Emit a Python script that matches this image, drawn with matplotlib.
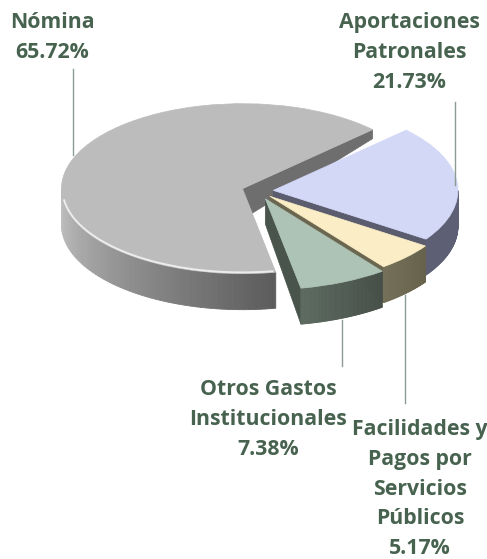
# coding: utf-8

import matplotlib
import numpy as np

matplotlib.use('Agg')
import matplotlib.pyplot as plt
from matplotlib.colors import to_rgb

WIDTH, HEIGHT = 487, 559
RX, RY = 181.0, 85.0
CENTER = (258.0, 191.0)
DEPTH = 36.0 / RY

categories = ["Nómina", "Otros Gastos\nInstitucionales", "Facilidades y\nPagos por\nServicios\nPúblicos", "Aportaciones\nPatronales"]
shares = [65.72, 7.38, 5.17, 21.73]
explode = [0.09, 0.10, 0.09, 0.085]
# front slices look a bit larger in the perspective of the original
radius_scale = [1.0, 1.07, 1.04, 1.02]
top_colors = ["#bcbcbc", "#adc3b6", "#fbeec6", "#d3d8f7"]
cut_colors = ["#6e6e6e", "#48544c", "#6b664f", "#5b5d6f"]
side_left = ["#c4c4c4", "#5c6a60", "#75705a", "#5d6074"]
side_right = ["#5c5c5c", "#464f48", "#67624c", "#5d6074"]
# bottom of the cut face, at the tip and at the rim (fraction of the depth)
cut_depth = [(0.85, 0.25), (0.7, 1.0), (0.6, 1.0), (0.7, 1.0)]
draw_order = [0, 3, 2, 1]

label_x = [52, 268, 420, 409]
label_y = [12, 379, 419, 12]
leader_x = [73, 342, 405, 455]
leader_y = [(69, 155), (320, 366), (295, 403), (102, 185)]
text_color = "#47634f"
leader_color = "#8b9c93"


def px(x, y):
    return x / WIDTH, 1.0 - y / HEIGHT


def point(wedge, angle, drop=0.0):
    a = np.deg2rad(angle)
    return (wedge.center[0] + wedge.r * np.cos(a),
            wedge.center[1] + wedge.r * np.sin(a) - drop)


def draw_side(ax, wedge, left, right, z):
    # only the part of the rim that faces the viewer
    a1 = max(wedge.theta1, 180.0)
    a2 = min(wedge.theta2, 360.0)
    if a2 <= a1:
        return
    angles = np.linspace(a1, a2, 60)
    c1, c2 = np.array(to_rgb(left)), np.array(to_rgb(right))
    for i in range(len(angles) - 1):
        p0 = point(wedge, angles[i])
        p1 = point(wedge, angles[i + 1])
        t = i / (len(angles) - 2)
        col = c1 + (c2 - c1) * t
        ax.fill([p0[0], p1[0], p1[0], p0[0]],
                [p0[1], p1[1], p1[1] - DEPTH, p0[1] - DEPTH],
                color=col, lw=0.6, zorder=z)


def draw_cut(ax, wedge, angle, color, depths, z):
    tip = wedge.center
    rim = point(wedge, angle)
    ax.fill([tip[0], rim[0], rim[0], tip[0]],
            [tip[1], rim[1], rim[1] - depths[1] * DEPTH, tip[1] - depths[0] * DEPTH],
            color=color, lw=0.5, zorder=z)


fig = plt.figure(figsize=(WIDTH / 100, HEIGHT / 100), dpi=100, facecolor="white")
ax = fig.add_axes([0, 0, 1, 1])
wedges, _ = ax.pie(shares, explode=explode, colors=top_colors, startangle=44,
                   radius=1.0, counterclock=True, normalize=True)
ax.set_aspect('auto')
ax.set_xlim(-CENTER[0] / RX, (WIDTH - CENTER[0]) / RX)
ax.set_ylim(-(HEIGHT - CENTER[1]) / RY, CENTER[1] / RY)
ax.axis('off')

for rank, i in enumerate(draw_order):
    wedge = wedges[i]
    wedge.set_radius(radius_scale[i])
    z = 2 + rank * 3
    draw_cut(ax, wedge, wedge.theta1, cut_colors[i], cut_depth[i], z)
    draw_side(ax, wedge, side_left[i], side_right[i], z + 1)
    wedge.set_zorder(z + 2)
    wedge.set_edgecolor(top_colors[i])
    wedge.set_linewidth(0.5)

# soft highlight along the front rim of the big slice
main = wedges[0]
arc = np.linspace(188, main.theta2 - 1, 120)
ax.plot(main.center[0] + 0.995 * np.cos(np.deg2rad(arc)),
        main.center[1] + 0.985 * np.sin(np.deg2rad(arc)),
        color="#ececec", lw=1.4, zorder=main.get_zorder() + 0.5)

for x, y in zip(leader_x, leader_y):
    fx, fy0 = px(x, y[0])
    _, fy1 = px(x, y[1])
    fig.add_artist(plt.Line2D([fx, fx], [fy0, fy1], color=leader_color, lw=1.0, zorder=1))

for name, share, x, y in zip(categories, shares, label_x, label_y):
    fx, fy = px(x, y)
    fig.text(fx, fy, "{}\n{:.2f}%".format(name, share), ha="center", va="top",
             family="Open Sans", weight="bold", fontsize=15.3, color=text_color, linespacing=1.55)

fig.savefig("out.png", dpi=100)
plt.close(fig)
